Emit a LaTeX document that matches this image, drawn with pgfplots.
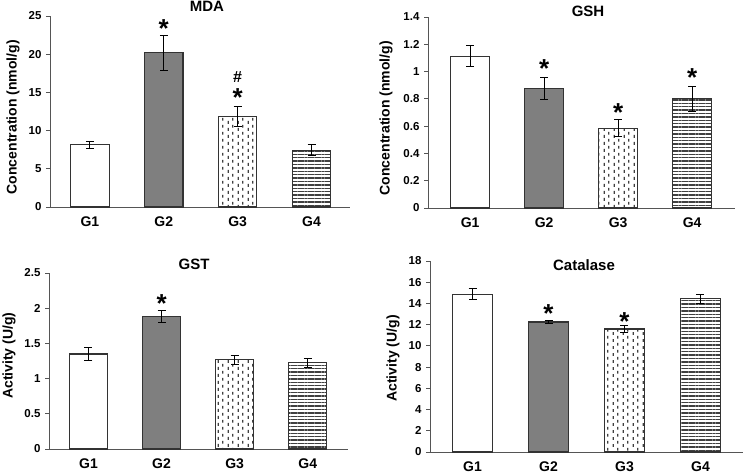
\documentclass[border=0pt]{standalone}
\usepackage{fontspec}
\setmainfont{Liberation Sans}
\usepackage{pgfplots}
\pgfplotsset{compat=1.18}
\usetikzlibrary{patterns.meta}
\definecolor{axisgray}{HTML}{555555}
\definecolor{bargray}{HTML}{7F7F7F}
\definecolor{edge}{HTML}{333333}
\tikzdeclarepattern{
  name=vdashes,
  type=uncolored,
  bounding box={(0pt,0pt) and (9.4pt,7pt)},
  tile size={(9.4pt,7pt)},
  code={
    \draw[line width=1.4pt] (2.35pt,0.2pt) -- (2.35pt,3.4pt) (7.05pt,3.7pt) -- (7.05pt,6.9pt);
  }
}
\tikzset{
  sig/.style={font=\fontsize{26}{26}\selectfont\bfseries, anchor=north, inner sep=0pt},
  hash/.style={font=\fontsize{16}{17}\selectfont\bfseries, anchor=north, inner sep=0pt},
  ttl/.style={font=\fontsize{15}{17}\selectfont\bfseries, anchor=base},
  ylab/.style={font=\fontsize{14}{16}\selectfont\bfseries, rotate=90, anchor=center},
}
\pgfplotsset{
  panel/.style={
    scale only axis,
    axis lines*=left,
    axis line style={draw=axisgray, line width=0.9pt, -},
    ymin=0,
    xtick={0,1,2,3},
    xticklabels={G1,G2,G3,G4},
    x tick style={draw=none},
    y tick style={draw=axisgray, line width=0.9pt},
    tick align=outside,
    major tick length=4pt,
    /pgf/number format/assume math mode=true,
    y tick label style={font=\fontsize{11.5}{13}\selectfont\bfseries, xshift=-1pt},
    x tick label style={font=\fontsize{14}{16}\selectfont\bfseries, yshift=-2pt},
    ybar,
    bar width=0.52,
    every axis plot/.append style={bar shift=0pt, line width=1.1pt,
      error bars/y dir=both, error bars/y explicit,
      error bars/error bar style={line width=1pt, black},
      error bars/error mark options={line width=1pt, black, mark size=4pt, rotate=90}},
    clip=false,
  },
  b1/.style={draw=edge, fill=white},
  b2/.style={draw=edge, fill=bargray},
  b3/.style={draw=edge, pattern=vdashes, pattern color=black!75},
  b4/.style={draw=edge, pattern={Lines[angle=0,distance=3.4pt,line width=1.4pt]}, pattern color=black!75},
}
\begin{document}
\begin{tikzpicture}
\useasboundingbox (0pt,0pt) rectangle (746pt,474pt);
% MDA
\begin{axis}[panel, at={(50pt,267pt)}, anchor=south west, width=300pt, height=191pt,
  xmin=-0.54, xmax=3.52, ymax=25, ytick={0,5,10,15,20,25},
  ylabel={Concentration (nmol/g)},
  every axis y label/.style={at={(axis description cs:-0.123,0.47)}, ylab}]
\addplot[b1] coordinates {(0,8.15) +- (0,0.45)};
\addplot[b2] coordinates {(1,20.2) +- (0,2.3)};
\addplot[b3] coordinates {(2,11.85) +- (0,1.3)};
\addplot[b4] coordinates {(3,7.45) +- (0,0.75)};
\node[sig] at (axis cs:1,24.56) {*};
\node[hash] at (axis cs:2,17.7) {\#};
\node[sig] at (axis cs:2,15.5) {*};
\end{axis}
\node[ttl] at (207pt,462pt) {MDA};
% GSH
\begin{axis}[panel, at={(428pt,266pt)}, anchor=south west, width=307pt, height=191pt,
  xmin=-0.57, xmax=3.58, ymax=1.4, ytick={0,0.2,0.4,0.6,0.8,1,1.2,1.4},
  ylabel={Concentration (nmol/g)},
  every axis y label/.style={at={(axis description cs:-0.137,0.47)}, ylab}]
\addplot[b1] coordinates {(0,1.112) +- (0,0.077)};
\addplot[b2] coordinates {(1,0.875) +- (0,0.08)};
\addplot[b3] coordinates {(2,0.586) +- (0,0.065)};
\addplot[b4] coordinates {(3,0.80) +- (0,0.09)};
\node[sig] at (axis cs:1,1.087) {*};
\node[sig] at (axis cs:2,0.765) {*};
\node[sig] at (axis cs:3,1.026) {*};
\end{axis}
\node[ttl] at (588pt,457pt) {GSH};
% GST
\begin{axis}[panel, at={(49pt,25pt)}, anchor=south west, width=299pt, height=176pt,
  xmin=-0.54, xmax=3.55, ymax=2.5, ytick={0,0.5,1,1.5,2,2.5},
  ylabel={Activity (U/g)},
  every axis y label/.style={at={(axis description cs:-0.134,0.53)}, ylab}]
\addplot[b1] coordinates {(0,1.35) +- (0,0.09)};
\addplot[b2] coordinates {(1,1.88) +- (0,0.088)};
\addplot[b3] coordinates {(2,1.27) +- (0,0.064)};
\addplot[b4] coordinates {(3,1.224) +- (0,0.064)};
\node[sig] at (axis cs:1,2.196) {*};
\end{axis}
\node[ttl] at (194pt,204pt) {GST};
% Catalase
\begin{axis}[panel, at={(430pt,22pt)}, anchor=south west, width=313pt, height=191pt,
  xmin=-0.56, xmax=3.56, ymax=18, ytick={0,2,4,6,8,10,12,14,16,18},
  ylabel={Activity (U/g)},
  every axis y label/.style={at={(axis description cs:-0.118,0.49)}, ylab}]
\addplot[b1] coordinates {(0,14.86) +- (0,0.52)};
\addplot[b2] coordinates {(1,12.25) +- (0,0.16)};
\addplot[b3] coordinates {(2,11.59) +- (0,0.36)};
\addplot[b4] coordinates {(3,14.45) +- (0,0.41)};
\node[sig] at (axis cs:1,13.89) {*};
\node[sig] at (axis cs:2,13.16) {*};
\end{axis}
\node[ttl] at (584pt,203pt) {Catalase};
\end{tikzpicture}
\end{document}
